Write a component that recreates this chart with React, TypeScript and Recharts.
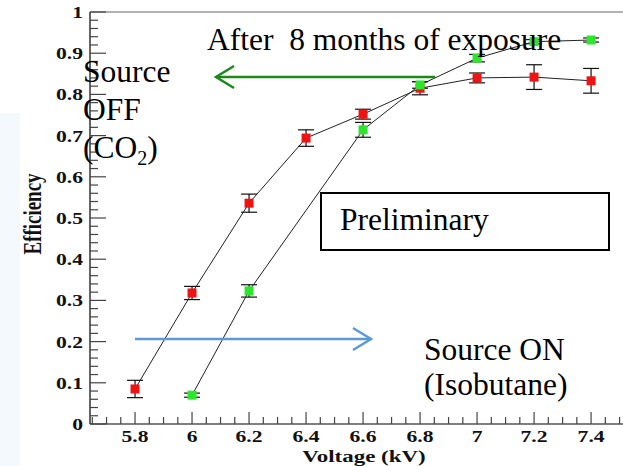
import React from "react";
import { LineChart, Line, XAxis, YAxis, ErrorBar, ReferenceLine } from "recharts";

// red points (upper curve at low voltage)
const redVolts = [5.8, 6.0, 6.2, 6.4, 6.6, 6.8, 7.0, 7.2, 7.4];
const redEff = [0.085, 0.318, 0.536, 0.694, 0.752, 0.815, 0.84, 0.842, 0.833];
const redErr = [0.021, 0.016, 0.022, 0.02, 0.012, 0.016, 0.012, 0.03, 0.03];

// green points
const greenVolts = [6.0, 6.2, 6.6, 6.8, 7.0, 7.2, 7.4];
const greenEff = [0.07, 0.323, 0.714, 0.823, 0.888, 0.928, 0.932];
const greenErr = [0.005, 0.015, 0.018, 0.008, 0.009, 0.005, 0.005];

const xMajor = [5.8, 6, 6.2, 6.4, 6.6, 6.8, 7, 7.2, 7.4];
const xMinor = [
  5.65, 5.7, 5.75, 5.85, 5.9, 5.95, 6.05, 6.1, 6.15, 6.25, 6.3, 6.35, 6.45, 6.5, 6.55,
  6.65, 6.7, 6.75, 6.85, 6.9, 6.95, 7.05, 7.1, 7.15, 7.25, 7.3, 7.35, 7.45, 7.5,
];
const yMajor = [0, 0.1, 0.2, 0.3, 0.4, 0.5, 0.6, 0.7, 0.8, 0.9, 1];
const yMinor = yMajor.slice(0, -1).flatMap((m) => [0.02, 0.04, 0.06, 0.08].map((d) => +(m + d).toFixed(2)));

const redData = redVolts.map((v, i) => ({ v, eff: redEff[i], err: redErr[i] }));
const greenData = greenVolts.map((v, i) => ({ v, eff: greenEff[i], err: greenErr[i] }));

const isMajor = (list: number[], val: number) => list.some((m) => Math.abs(m - val) < 1e-6);

const tickFont = { fontFamily: "'Liberation Serif', serif", fontWeight: 700, fontSize: 16, fill: "#111" };

function XTick(props: any) {
  const { x, y, payload } = props;
  const major = isMajor(xMajor, payload.value);
  return (
    <g>
      <line x1={x} x2={x} y1={y} y2={y - (major ? 12 : 7)} stroke="#444" strokeWidth={1.2} />
      {major && (
        <text transform={`translate(${x},${y + 18}) scale(1.35,1)`} textAnchor="middle" {...tickFont}>
          {String(payload.value)}
        </text>
      )}
    </g>
  );
}

function YTick(props: any) {
  const { x, y, payload } = props;
  const major = isMajor(yMajor, payload.value);
  return (
    <g>
      <line x1={x} x2={x + (major ? 16 : 8)} y1={y} y2={y} stroke="#444" strokeWidth={1.2} />
      {major && (
        <text transform={`translate(${x - 7},${y + 6}) scale(1.35,1)`} textAnchor="end" {...tickFont}>
          {String(payload.value)}
        </text>
      )}
    </g>
  );
}

const square = (fill: string, size: number) => (p: any) => (
  <rect key={`${fill}-${p.index}`} x={p.cx - size / 2} y={p.cy - size / 2} width={size} height={size} fill={fill} />
);

const serif = "'Liberation Serif', 'Times New Roman', serif";

export default function App() {
  return (
    <div style={{ position: "absolute", left: 0, top: 0, width: 623, height: 466, background: "#fff" }}>
      <div style={{ position: "absolute", left: 0, top: 113, width: 20, height: 353, background: "#f4f9fd" }} />
      <LineChart width={623} height={466} margin={{ top: 12, right: 0, left: 0, bottom: 0 }}>
        <XAxis
          dataKey="v"
          type="number"
          domain={[5.642, 7.512]}
          ticks={[...xMajor, ...xMinor].sort((a, b) => a - b)}
          interval={0}
          height={42}
          tickSize={0}
          tickMargin={0}
          tickLine={false}
          axisLine={{ stroke: "#555", strokeWidth: 1.5 }}
          tick={<XTick />}
          allowDataOverflow
        />
        <YAxis
          type="number"
          domain={[0, 1]}
          ticks={[...yMajor, ...yMinor].sort((a, b) => a - b)}
          interval={0}
          width={90}
          tickSize={0}
          tickMargin={0}
          tickLine={false}
          axisLine={{ stroke: "#333", strokeWidth: 1.5 }}
          tick={<YTick />}
        />
        <ReferenceLine y={1} stroke="#999" strokeWidth={1.5} />
        <Line
          data={redData}
          dataKey="eff"
          stroke="#222"
          strokeWidth={1}
          dot={square("#ee1414", 9)}
          isAnimationActive={false}
        >
          <ErrorBar dataKey="err" width={8} stroke="#111" strokeWidth={1.2} direction="y" />
        </Line>
        <Line
          data={greenData}
          dataKey="eff"
          stroke="#222"
          strokeWidth={1}
          dot={square("#2ee52e", 9)}
          isAnimationActive={false}
        >
          <ErrorBar dataKey="err" width={8} stroke="#111" strokeWidth={1.2} direction="y" />
        </Line>
      </LineChart>
      <svg width={623} height={466} style={{ position: "absolute", left: 0, top: 0, pointerEvents: "none" }}>
        <text
          transform="translate(41,214) rotate(-90) scale(1,1.3)"
          textAnchor="middle"
          fontFamily={serif}
          fontWeight={700}
          fontSize={19}
          fill="#111"
        >
          Efficiency
        </text>
        <text
          transform="translate(364,462) scale(1.35,1)"
          textAnchor="middle"
          fontFamily={serif}
          fontWeight={700}
          fontSize={17}
          fill="#111"
        >
          Voltage (kV)
        </text>

        <g fontFamily={serif} fontSize={31.5} fill="#000">
          <text x={207} y={50} style={{ whiteSpace: "pre" }}>
            {"After  8 months of exposure"}
          </text>
          <text x={83} y={82}>Source</text>
          <text x={83} y={120}>OFF</text>
          <text x={83} y={158}>
            (CO<tspan fontSize={20} dy={7}>2</tspan>
            <tspan dy={-7}>)</tspan>
          </text>
          <text x={340} y={230}>Preliminary</text>
          <text x={424} y={360}>Source ON</text>
          <text x={424} y={395}>(Isobutane)</text>
        </g>
        <rect x={321} y={193} width={288} height={57} fill="none" stroke="#000" strokeWidth={2} />

        <g stroke="#1a8a1a" strokeWidth={2.5} fill="none">
          <line x1={216} y1={77} x2={435} y2={77} />
          <polyline points="234,66 216,77 234,88" />
        </g>
        <g stroke="#5b9bd5" strokeWidth={2.5} fill="none">
          <line x1={135} y1={339} x2={371} y2={339} />
          <polyline points="353,328 371,339 353,350" />
        </g>
      </svg>
    </div>
  );
}
